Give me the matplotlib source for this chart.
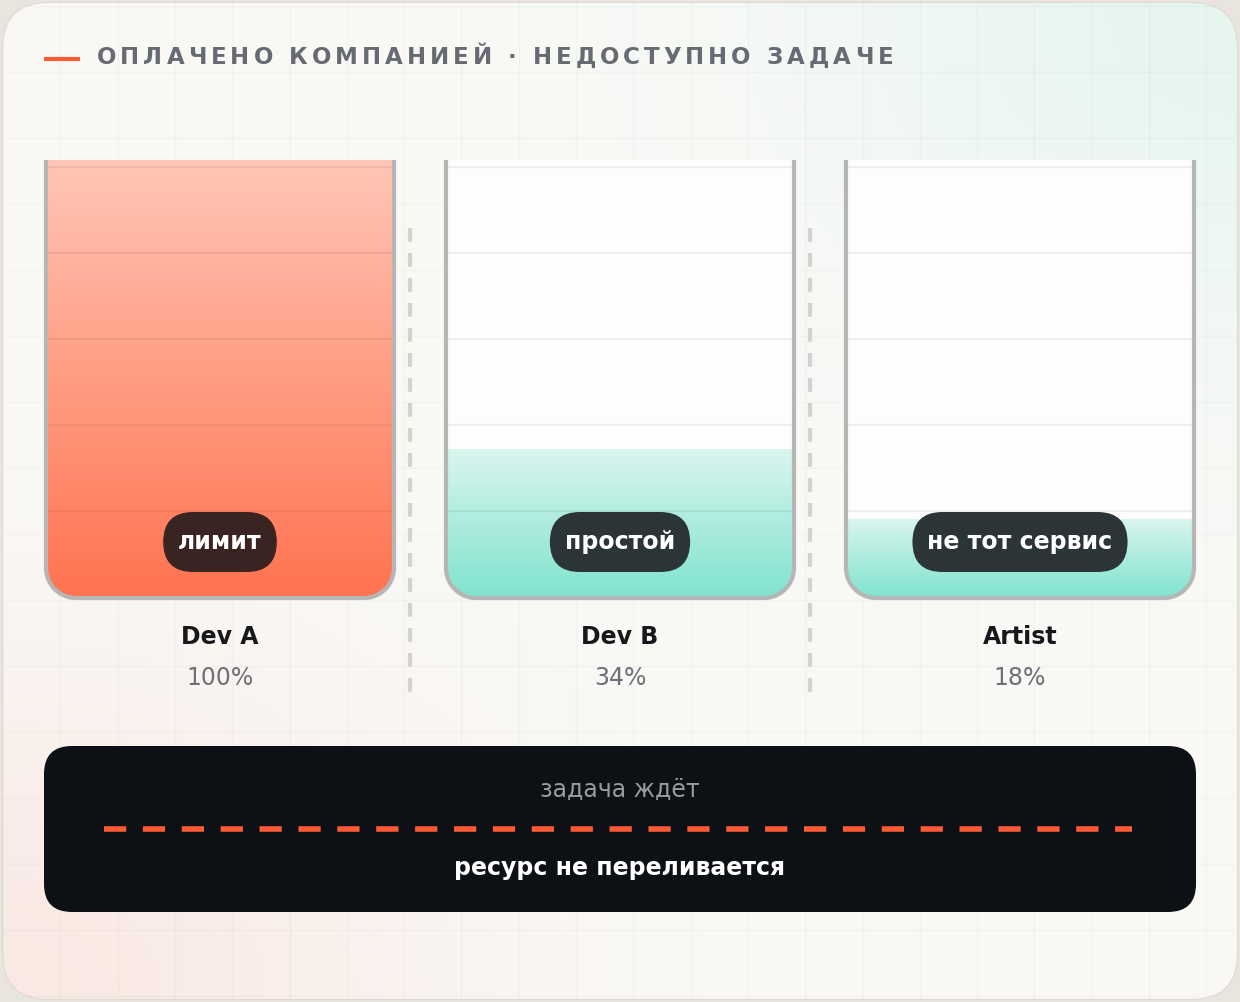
import numpy as np
import matplotlib
matplotlib.use("Agg")
import matplotlib.pyplot as plt
from matplotlib.patches import FancyBboxPatch, PathPatch
from matplotlib.path import Path
from matplotlib.colors import LinearSegmentedColormap

# data
names = ["Dev A", "Dev B", "Artist"]
usage = [100, 34, 18]
badges = ["лимит", "простой", "не тот сервис"]
title = "ОПЛАЧЕНО КОМПАНИЕЙ · НЕДОСТУПНО ЗАДАЧЕ"
box_top_text = "задача ждёт"
box_bottom_text = "ресурс не переливается"

W, H = 1240, 1002
fig = plt.figure(figsize=(W / 100, H / 100), dpi=100)
ax = fig.add_axes([0, 0, 1, 1])
ax.set_xlim(0, W)
ax.set_ylim(H, 0)
ax.axis("off")
fig.patch.set_facecolor("#e9e5de")


def bottom_rounded(x0, x1, y0, y1, r, closed=True):
    # rect with rounded bottom corners (y grows downwards)
    r = min(r, (y1 - y0), (x1 - x0) / 2)
    a = np.linspace(0, np.pi / 2, 20)
    left = [(x0 + r - r * np.sin(t), y1 - r + r * np.cos(t)) for t in a[::-1]]
    right = [(x1 - r + r * np.sin(t), y1 - r + r * np.cos(t)) for t in a]
    pts = [(x0, y0)] + left + right + [(x1, y0)]
    if closed:
        pts.append((x0, y0))
        codes = [Path.MOVETO] + [Path.LINETO] * (len(pts) - 2) + [Path.CLOSEPOLY]
    else:
        codes = [Path.MOVETO] + [Path.LINETO] * (len(pts) - 1)
    return Path(pts, codes)


# card
card = FancyBboxPatch((3, 3), W - 6, H - 6, boxstyle="round,pad=0,rounding_size=46",
                      fc="#faf9f6", ec="#dcd9d3", lw=1.5, zorder=1)
ax.add_patch(card)

# soft tints on the card
yy, xx = np.mgrid[0:H:4, 0:W:4]
mint = 0.85 * np.exp(-(((xx - 1240) / 430.0) ** 2 + ((yy - 0) / 360.0) ** 2))
peach = 0.85 * np.exp(-(((xx - 0) / 420.0) ** 2 + ((yy - 1002) / 330.0) ** 2))
base = np.array([250, 249, 246]) / 255
mint_c = np.array([228, 245, 238]) / 255
peach_c = np.array([250, 230, 224]) / 255
img = base[None, None, :] * (1 - mint[..., None] - peach[..., None]) \
    + mint_c * mint[..., None] + peach_c * peach[..., None]
im = ax.imshow(np.clip(img, 0, 1), extent=(0, W, H, 0), zorder=1.1, interpolation="bilinear")
im.set_clip_path(card)

# faint background grid
for gx in np.arange(3, W, 57.3):
    ax.plot([gx, gx], [3, H - 3], color="#000000", alpha=0.022, lw=1, zorder=1.2)
for gy in np.arange(6, H, 66):
    ax.plot([3, W - 3], [gy, gy], color="#000000", alpha=0.022, lw=1, zorder=1.2)
for ln in ax.lines:
    ln.set_clip_path(card)

# title
ax.plot([44, 80], [59, 59], color="#ff5a36", lw=3, solid_capstyle="butt", zorder=3)
renderer = fig.canvas.get_renderer()
fs_title = 16.5
widths = []
for ch in title:
    t = ax.text(0, 0, ch if ch != " " else "\u00a0", fontsize=fs_title, fontweight="bold")
    widths.append(t.get_window_extent(renderer).width)
    t.remove()
target = 893 - 97
track = (target - sum(widths)) / (len(title) - 1)
cx = 97
for ch, w in zip(title, widths):
    ax.text(cx, 57, ch, fontsize=fs_title, fontweight="bold", color="#666a73",
            va="center", ha="left", zorder=3)
    cx += w + track

# tanks
tank_left = [46, 446, 846]
tank_w = 348
top, bottom = 160, 598
radius = 30
red_cmap = LinearSegmentedColormap.from_list("r", ["#ffc6b6", "#ff7350"])
mint_cmap = LinearSegmentedColormap.from_list("m", ["#d9f5ee", "#80e3cf"])
grad = np.linspace(0, 1, 256)[:, None]
fs = 17

for i, (name, val, badge) in enumerate(zip(names, usage, badges)):
    x0 = tank_left[i]
    x1 = x0 + tank_w
    inner = PathPatch(bottom_rounded(x0, x1, top, bottom, radius), fc="#fdfdfc", ec="none", zorder=2)
    ax.add_patch(inner)
    fill_top = bottom - val / 100 * (bottom - top)
    fill = PathPatch(bottom_rounded(x0, x1, fill_top, bottom, radius), fc="none", ec="none", zorder=2.1)
    ax.add_patch(fill)
    cmap = red_cmap if val >= 100 else mint_cmap
    g = ax.imshow(grad, extent=(x0, x1, bottom, fill_top), cmap=cmap, aspect="auto",
                  zorder=2.1, interpolation="bilinear")
    g.set_clip_path(fill)
    # level lines
    for lv in range(5):
        ly = 167 + 86 * lv
        ax.plot([x0, x1], [ly, ly], color="#000000", alpha=0.06, lw=1.5, zorder=2.2)
    # walls
    wall = PathPatch(bottom_rounded(x0, x1, top, bottom, radius, closed=False),
                     fc="none", ec="#b6b6b6", lw=3, zorder=2.5)
    ax.add_patch(wall)
    # badge
    cx = x0 + tank_w / 2
    bt = ax.text(cx, 542, badge, fontsize=fs, fontweight="bold", color="white",
                 ha="center", va="center", zorder=4)
    bw = bt.get_window_extent(renderer).width + 30
    pill = FancyBboxPatch((cx - bw / 2, 512), bw, 60, boxstyle="round,pad=0,rounding_size=30",
                          fc="#3a2421" if val >= 100 else "#2b3537", ec="none", zorder=3)
    ax.add_patch(pill)
    # labels
    ax.text(cx, 637, name, fontsize=fs, fontweight="bold", color="#17181b",
            ha="center", va="center", zorder=3)
    ax.text(cx, 678, f"{val}%", fontsize=fs, color="#6d7079",
            ha="center", va="center", zorder=3)

# separators
for sx in [410, 810]:
    ax.plot([sx, sx], [228, 700], color="#d2d2d0", lw=3, ls=(0, (3.3, 2.7)), zorder=2)

# bottom box
box = FancyBboxPatch((44, 746), 1152, 166, boxstyle="round,pad=0,rounding_size=28",
                     fc="#0d1015", ec="none", zorder=3)
ax.add_patch(box)
ax.text(620, 790, box_top_text, fontsize=fs, color="#9a9b9d", ha="center", va="center", zorder=4)
ax.plot([104, 1132], [829, 829], color="#ff5a36", lw=4, ls=(0, (4, 3)), zorder=4)
ax.text(620, 868, box_bottom_text, fontsize=fs, fontweight="bold", color="white",
        ha="center", va="center", zorder=4)

fig.savefig("out.png", dpi=100, facecolor=fig.get_facecolor())
